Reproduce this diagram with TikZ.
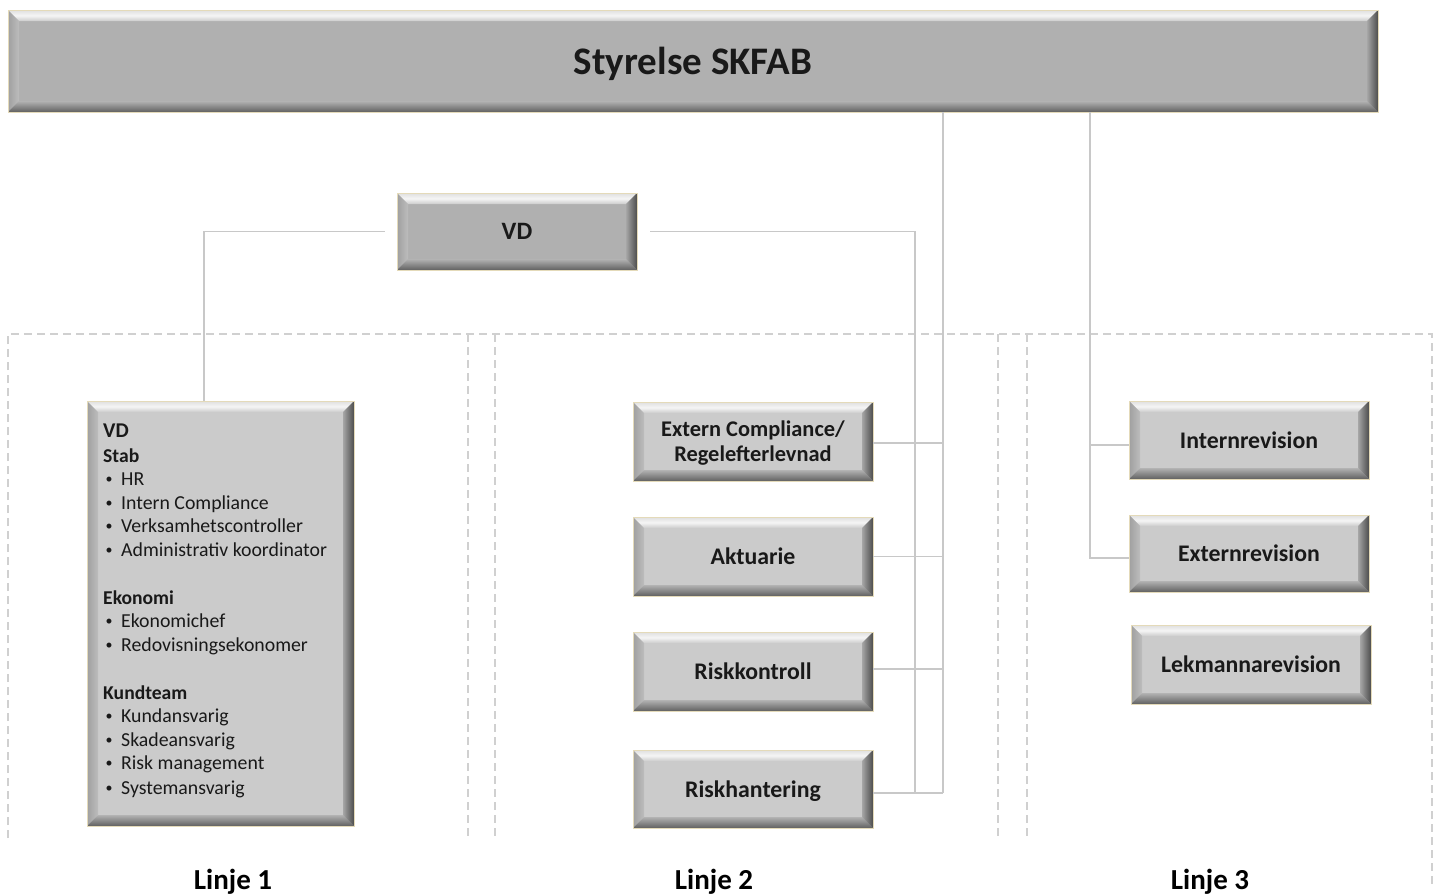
\documentclass[tikz,border=0pt]{standalone}
\usepackage{fontspec}
\setmainfont{Carlito}
\usetikzlibrary{calc}
\definecolor{boxdark}{RGB}{176,176,176}
\definecolor{boxlight}{RGB}{203,203,203}
\definecolor{linegray}{RGB}{200,200,200}
\definecolor{dashgray}{RGB}{208,208,208}
\definecolor{rimgold}{RGB}{228,218,185}
\definecolor{txt}{RGB}{25,25,25}
\tikzset{
  bevelbox/.style={draw=rimgold, line width=0.8pt, fill=#1, inner sep=0pt, font=\bfseries, text=txt, align=center, text depth=0pt,
    path picture={
      \path (path picture bounding box.north west) coordinate (bNW)
            (path picture bounding box.north east) coordinate (bNE)
            (path picture bounding box.south west) coordinate (bSW)
            (path picture bounding box.south east) coordinate (bSE);
      \shade[top color=gray!25, bottom color=gray!40, middle color=white!92!gray]
        (bNW) -- (bNE) -- ([shift={(-11pt,-11pt)}]bNE) -- ([shift={(11pt,-11pt)}]bNW) -- cycle;
      \shade[left color=gray!75, right color=gray!52]
        (bNW) -- ([shift={(11pt,-11pt)}]bNW) -- ([shift={(11pt,11pt)}]bSW) -- (bSW) -- cycle;
      \shade[top color=gray!60, bottom color=black!62]
        (bSW) -- ([shift={(11pt,11pt)}]bSW) -- ([shift={(-11pt,11pt)}]bSE) -- (bSE) -- cycle;
      \shade[left color=gray!70, right color=black!70]
        (bNE) -- ([shift={(-11pt,-11pt)}]bNE) -- ([shift={(-11pt,11pt)}]bSE) -- (bSE) -- cycle;
    }},
  conn/.style={draw=linegray, line width=1.6pt},
  dashline/.style={draw=dashgray, line width=1.5pt, dash pattern=on 8pt off 5pt},
  itemtext/.style={anchor=base west, inner sep=0pt, font=\fontsize{19.8}{22}\selectfont, text=txt},
  headtext/.style={anchor=base west, inner sep=0pt, font=\fontsize{19.6}{22}\selectfont\bfseries, text=txt},
  linjetext/.style={inner sep=0pt, font=\fontsize{29}{32}\selectfont\bfseries, text=black},
  boxfont/.style={font=\fontsize{23.8}{26}\selectfont\bfseries}
}
\newcommand\bul{\makebox[18pt][l]{\hspace{2.5pt}\raisebox{2pt}{\fontsize{14}{14}\selectfont\textbullet}}}
\begin{document}
\begin{tikzpicture}[x=1pt,y=-1pt]
\useasboundingbox (0,0) rectangle (1438,895);
% dashed regions
\draw[dashline] (8,838) -- (8,334) -- (1432,334) -- (1432,885);
\draw[dashline] (468,334) -- (468,838);
\draw[dashline] (495,334) -- (495,838);
\draw[dashline] (998,334) -- (998,838);
\draw[dashline] (1027,334) -- (1027,838);

% boxes
\node[bevelbox=boxdark, minimum width=1370pt, minimum height=102pt, font=\fontsize{39}{42}\selectfont\bfseries] (top) at (693,61) {Styrelse SKFAB};
\node[bevelbox=boxdark, minimum width=240pt, minimum height=77pt, font=\fontsize{25}{28}\selectfont\bfseries] (vd) at (517,231.5) {VD};
\node[bevelbox=boxlight, minimum width=267pt, minimum height=425pt] (big) at (220.5,613.5) {};

\node[bevelbox=boxlight, minimum width=240pt, minimum height=79pt, font=\fontsize{22.4}{25}\selectfont\bfseries] (ext) at (753,441.5) {Extern Compliance/\\Regelefterlevnad};
\node[bevelbox=boxlight, minimum width=240pt, minimum height=79pt, boxfont] (akt) at (753,556.5) {Aktuarie};
\node[bevelbox=boxlight, minimum width=240pt, minimum height=79pt, boxfont] (rk) at (753,671.5) {Riskkontroll};
\node[bevelbox=boxlight, minimum width=240pt, minimum height=78pt, boxfont] (rh) at (753,789) {Riskhantering};

\node[bevelbox=boxlight, minimum width=240pt, minimum height=78pt, boxfont] (int) at (1249,440) {Internrevision};
\node[bevelbox=boxlight, minimum width=240pt, minimum height=77pt, boxfont] (exr) at (1249,553.5) {Externrevision};
\node[bevelbox=boxlight, minimum width=240pt, minimum height=79pt, boxfont] (lek) at (1251,664.5) {Lekmannarevision};

% big box text
\node[headtext, font=\fontsize{21}{24}\selectfont\bfseries] (t1) at (103,437.5) {VD};
\node[headtext] (t2) at (103,462) {Stab};
\node[itemtext] (t3) at (103,485) {\bul HR};
\node[itemtext] (t4) at (103,509) {\bul Intern Compliance};
\node[itemtext] (t5) at (103,532) {\bul Verksamhetscontroller};
\node[itemtext] (t6) at (103,556.5) {\bul Administrativ koordinator};
\node[headtext] (t7) at (103,604) {Ekonomi};
\node[itemtext] (t8) at (103,627) {\bul Ekonomichef};
\node[itemtext] (t9) at (103,651) {\bul Redovisningsekonomer};
\node[headtext] (t10) at (103,699) {Kundteam};
\node[itemtext] (t11) at (103,722) {\bul Kundansvarig};
\node[itemtext] (t12) at (103,746) {\bul Skadeansvarig};
\node[itemtext] (t13) at (103,769) {\bul Risk management};
\node[itemtext] (t14) at (103,794) {\bul Systemansvarig};

% labels
\node[linjetext] (l1) at (233,882) {Linje 1};
\node[linjetext] (l2) at (714,882) {Linje 2};
\node[linjetext] (l3) at (1210,882) {Linje 3};

% connectors
\coordinate (busA) at (204,0);
\coordinate (busB) at (915,0);
\coordinate (busC) at (943,0);
\coordinate (busD) at (1090,0);
\draw[conn] ([xshift=-12pt]vd.west) -- (vd.west -| busA) -- (big.north -| busA);
\draw[conn] ([xshift=13pt]vd.east) -- (vd.east -| busB) -- ([yshift=-4pt]rh.east -| busB);
\draw[conn] (top.south -| busC) -- ([yshift=-4pt]rh.east -| busC);
\draw[conn] ([yshift=-1.5pt]ext.east) -- ([yshift=-1.5pt]ext.east -| busC);
\draw[conn] (akt.east) -- (akt.east -| busC);
\draw[conn] ([yshift=2.5pt]rk.east) -- ([yshift=2.5pt]rk.east -| busC);
\draw[conn] ([yshift=-4pt]rh.east) -- ([yshift=-4pt]rh.east -| busC);
\draw[conn] (top.south -| busD) -- ([yshift=-4.5pt]exr.west -| busD) -- ([yshift=-4.5pt]exr.west);
\draw[conn] ([yshift=-5pt]int.west -| busD) -- ([yshift=-5pt]int.west);
\end{tikzpicture}
\end{document}
